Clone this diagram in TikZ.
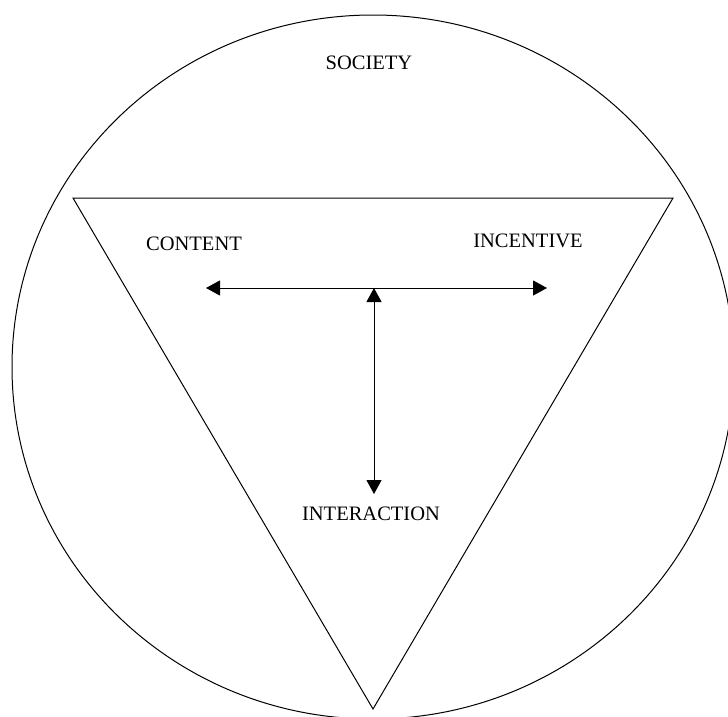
\documentclass[tikz,border=0pt]{standalone}
\usepackage{fontspec}
\setmainfont{Liberation Serif}
\usetikzlibrary{arrows.meta}
\begin{document}
\begin{tikzpicture}[x=1pt,y=-1pt,
  lbl/.style={anchor=base,inner sep=0pt,font=\fontsize{20.5}{24}\selectfont},
  ln/.style={line width=1pt,draw=black},
  arr/.style={ln,{Triangle[length=14pt,width=15pt]}-{Triangle[length=14pt,width=15pt]}},
  arrup/.style={ln,{Triangle[length=14pt,width=15pt]}-{Triangle[length=14pt,width=15pt]}}]
\useasboundingbox (0,0) rectangle (728,716);
\begin{scope}
\clip (0,0) rectangle (728,716);
\draw[ln] (373,367) ellipse [x radius=361, y radius=352];
\end{scope}
\coordinate (tl) at (73,198);
\coordinate (tr) at (673,198);
\coordinate (bt) at (373,709);
\draw[ln,line join=miter] (tl) -- (tr) -- (bt) -- cycle;
\node[lbl] (society) at (369,69) {SOCIETY};
\node[lbl] (content) at (194,250) {CONTENT};
\node[lbl] (incentive) at (528,247) {INCENTIVE};
\node[lbl] (interaction) at (371,520) {INTERACTION};
\coordinate (hl) at (206,288);
\coordinate (hr) at (547,288);
\coordinate (vt) at (374,288);
\coordinate (vb) at (374,494);
\draw[arr] (hl) -- (hr);
\draw[arrup] (vt) -- (vb);
\end{tikzpicture}
\end{document}
